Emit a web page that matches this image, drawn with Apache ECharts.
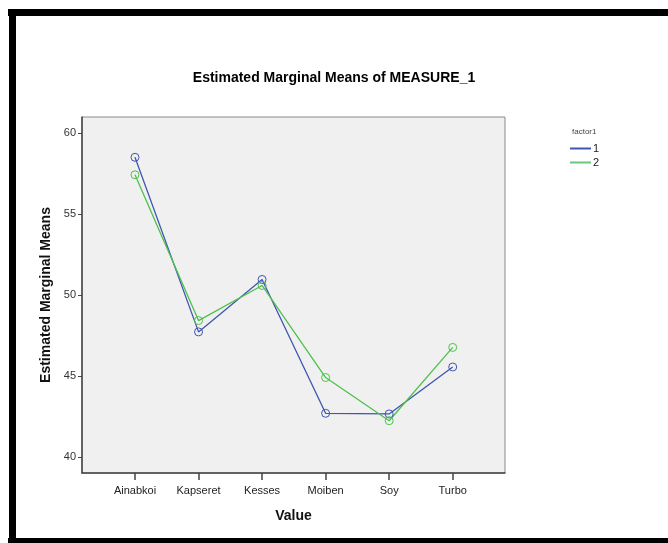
<!DOCTYPE html>
<html>
<head>
<meta charset="utf-8">
<script src="https://cdn.jsdelivr.net/npm/echarts@6.0.0/dist/echarts.min.js"></script>
<style>
  html, body { margin: 0; padding: 0; background: #fff; }
  #chart { width: 668px; height: 543px; }
</style>
</head>
<body>
<div id="chart"></div>
<script>
// Data
const categories = ['Ainabkoi', 'Kapseret', 'Kesses', 'Moiben', 'Soy', 'Turbo'];
const factor1 = [58.51, 47.72, 50.96, 42.69, 42.65, 45.55];
const factor2 = [57.43, 48.42, 50.59, 44.90, 42.23, 46.76];
const yTicks = [40, 45, 50, 55, 60];

const catIdx = categories.map((_, i) => i);
const font = 'Liberation Sans, Arial, sans-serif';
const blue = '#3F55B0';
const green = '#4DC14D';

var chartDom = document.getElementById('chart');
var myChart = echarts.init(chartDom);

const makeSeries = (name, values, color) => ({
  name: name,
  type: 'line',
  data: values.map((v, i) => [i, v]),
  symbol: 'circle',
  symbolSize: 8,
  lineStyle: { color: color, width: 1.3 },
  itemStyle: { color: 'rgba(0,0,0,0)', borderColor: color, borderWidth: 1 },
  emphasis: { disabled: true },
  z: 3
});

var option = {
  animation: false,
  title: [
    {
      text: 'Estimated Marginal Means of MEASURE_1',
      left: 'center',
      top: 66,
      textStyle: { fontFamily: font, fontSize: 14, fontWeight: 'bold', color: '#000' }
    },
    {
      text: 'factor1',
      left: 567,
      top: 123,
      textStyle: { fontFamily: font, fontSize: 8, fontWeight: 'normal', color: '#444' }
    }
  ],
  legend: {
    orient: 'vertical',
    left: 565,
    top: 138,
    icon: 'rect',
    itemWidth: 21,
    itemHeight: 2,
    itemGap: 3,
    textStyle: { fontFamily: font, fontSize: 11, color: '#222', padding: [0, 0, 0, -3] },
    data: [
      { name: '1', itemStyle: { color: blue, borderWidth: 0 } },
      { name: '2', itemStyle: { color: '#66C97E', borderWidth: 0 } }
    ]
  },
  grid: {
    left: 82,
    top: 117,
    right: 163,
    bottom: 70,
    show: true,
    backgroundColor: '#F0F0F0',
    borderColor: '#8a8a8a',
    borderWidth: 1
  },
  xAxis: {
    type: 'value',
    min: -0.834,
    max: 5.823,
    name: 'Value',
    nameLocation: 'middle',
    nameGap: 36,
    nameTextStyle: { fontFamily: font, fontSize: 14, fontWeight: 'bold', color: '#111' },
    axisLine: { show: true, onZero: false, lineStyle: { color: '#444', width: 1.5 } },
    axisTick: { show: true, customValues: catIdx, length: 7, lineStyle: { color: '#444', width: 1.5 } },
    axisLabel: {
      customValues: catIdx,
      formatter: (v) => categories[Math.round(v)],
      margin: 12,
      fontFamily: font,
      fontSize: 11,
      color: '#222'
    },
    splitLine: { show: false }
  },
  yAxis: {
    type: 'value',
    min: 39,
    max: 61,
    name: 'Estimated Marginal Means',
    nameLocation: 'middle',
    nameGap: 20,
    nameTextStyle: { fontFamily: font, fontSize: 14, fontWeight: 'bold', color: '#111' },
    axisLine: { show: true, onZero: false, lineStyle: { color: '#444', width: 1.5 } },
    axisTick: { show: true, customValues: yTicks, length: 4, lineStyle: { color: '#444' } },
    axisLabel: {
      customValues: yTicks,
      margin: 6,
      fontFamily: font,
      fontSize: 11,
      color: '#333'
    },
    splitLine: { show: false }
  },
  series: [
    makeSeries('1', factor1, blue),
    makeSeries('2', factor2, green)
  ],
  graphic: [
    { type: 'rect', shape: { x: 8, y: 9, width: 660, height: 7 }, style: { fill: '#000' }, silent: true },
    { type: 'rect', shape: { x: 9, y: 9, width: 7, height: 534 }, style: { fill: '#000' }, silent: true },
    { type: 'rect', shape: { x: 8, y: 538, width: 660, height: 5 }, style: { fill: '#000' }, silent: true }
  ]
};

option && myChart.setOption(option);
</script>
</body>
</html>
